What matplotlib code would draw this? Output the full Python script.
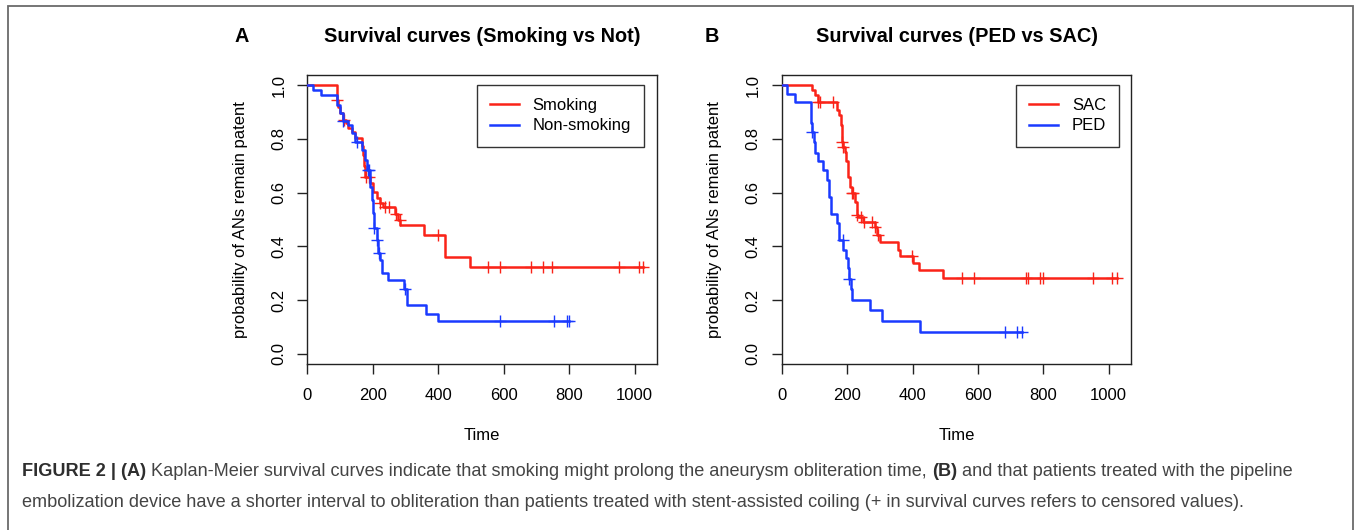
"""Kaplan-Meier curves: smoking vs not, PED vs SAC (Figure 2 remake)."""

import matplotlib
matplotlib.use("Agg")
import matplotlib.pyplot as plt
import numpy as np
from matplotlib.patches import Rectangle

# ---- Panel A: step times and survival just after each step
smoking_times = [0, 90, 95, 100, 108, 118, 125, 136, 146, 166, 170, 173, 176,
                 190, 200, 212, 222, 232, 268, 278, 283, 355, 420, 496]
smoking_surv = [1.0, 0.945, 0.92, 0.895, 0.87, 0.86, 0.84, 0.827, 0.802, 0.775,
                0.74, 0.70, 0.66, 0.636, 0.604, 0.579, 0.56, 0.548, 0.52, 0.498,
                0.48, 0.442, 0.361, 0.322]
smoking_censor = [92, 112, 180, 187, 222, 238, 250, 272, 282, 400,
                  551, 589, 683, 720, 747, 953, 1012, 1025]

nonsmoking_times = [0, 16, 41, 90, 100, 110, 125, 135, 146, 166, 176, 181, 191,
                    198, 202, 205, 212, 217, 222, 229, 247, 296, 303, 306, 364, 398]
nonsmoking_surv = [1.0, 0.983, 0.964, 0.927, 0.896, 0.865, 0.852, 0.821, 0.79,
                   0.759, 0.72, 0.684, 0.622, 0.573, 0.523, 0.468, 0.425, 0.375,
                   0.349, 0.30, 0.275, 0.243, 0.212, 0.181, 0.15, 0.123]
nonsmoking_censor = [110, 151, 186, 188, 205, 213, 220, 298, 589, 755, 792, 798]

# ---- Panel B
sac_times = [0, 92, 102, 110, 168, 176, 180, 183, 188, 193, 198, 203, 208, 214,
             224, 229, 234, 249, 285, 290, 300, 356, 362, 402, 420, 494]
sac_surv = [1.0, 0.982, 0.963, 0.936, 0.908, 0.89, 0.85, 0.79, 0.77, 0.753,
            0.716, 0.66, 0.622, 0.60, 0.567, 0.517, 0.51, 0.492, 0.473, 0.442,
            0.417, 0.386, 0.364, 0.337, 0.312, 0.284]
sac_censor = [112, 117, 156, 183, 188, 214, 217, 229, 244, 251, 275, 285, 295,
              397, 550, 588, 748, 754, 790, 798, 952, 1011, 1024]

ped_times = [0, 15, 41, 90, 94, 99, 102, 112, 125, 137, 145, 150, 170, 176, 188,
             196, 202, 207, 211, 216, 270, 307, 422]
ped_surv = [1.0, 0.968, 0.937, 0.86, 0.827, 0.79, 0.747, 0.716, 0.684, 0.647,
            0.585, 0.52, 0.486, 0.424, 0.386, 0.355, 0.318, 0.28, 0.243, 0.202,
            0.163, 0.123, 0.081]
ped_censor = [94, 186, 207, 683, 719, 736]

x_ticks = [0, 200, 400, 600, 800, 1000]
y_ticks = [0.0, 0.2, 0.4, 0.6, 0.8, 1.0]

caption_line1 = [
    ("FIGURE 2 | (A)", "bold"),
    (" Kaplan-Meier survival curves indicate that smoking might prolong the "
     "aneurysm obliteration time, ", "normal"),
    ("(B)", "bold"),
    (" and that patients treated with the pipeline", "normal"),
]
caption_line2 = ("embolization device have a shorter interval to obliteration "
                 "than patients treated with stent-assisted coiling (+ in "
                 "survival curves refers to censored values).")

RED = "#FA2318"
BLUE = "#1A3AFF"
W, H = 1357, 530

plt.rcParams["font.family"] = ["Liberation Sans", "DejaVu Sans"]


def fx(x):
    return x / W


def fy(y):
    return 1 - y / H


def km_curve(ax, times, surv, censor, color, label):
    times = np.asarray(times, dtype=float)
    surv = np.asarray(surv, dtype=float)
    t = np.append(times, max(censor))
    s = np.append(surv, surv[-1])
    ax.step(t, s, where="post", color=color, lw=1.8, label=label, zorder=3)
    idx = np.searchsorted(times, censor, side="right") - 1
    ax.plot(censor, surv[idx], "+", color=color, ms=8, mew=1.0, zorder=3)


def style_axes(ax):
    ax.set_xlim(0, 1069)
    ax.set_ylim(-0.038, 1.038)
    ax.set_xticks(x_ticks)
    ax.set_yticks(y_ticks)
    ax.set_yticklabels([f"{v:.1f}" for v in y_ticks])
    for sp in ax.spines.values():
        sp.set_color("#222222")
        sp.set_linewidth(1.0)
    ax.tick_params(axis="both", length=7, width=1.0, color="#222222",
                   labelsize=12)
    ax.tick_params(axis="x", pad=10)
    ax.tick_params(axis="y", pad=8, labelrotation=90)
    for lab in ax.get_yticklabels():
        lab.set_va("center")


fig = plt.figure(figsize=(W / 100, H / 100), dpi=100)

ax_a = fig.add_axes([fx(307.3), fy(364), (657.3 - 307.3) / W, 289 / H])
ax_b = fig.add_axes([fx(781.7), fy(364), (1131.3 - 781.7) / W, 289 / H])

km_curve(ax_a, smoking_times, smoking_surv, smoking_censor, RED, "Smoking")
km_curve(ax_a, nonsmoking_times, nonsmoking_surv, nonsmoking_censor, BLUE, "Non-smoking")
km_curve(ax_b, sac_times, sac_surv, sac_censor, RED, "SAC")
km_curve(ax_b, ped_times, ped_surv, ped_censor, BLUE, "PED")

panels = [
    (ax_a, "A", 242, 240, "Survival curves (Smoking vs Not)", 482.3, (0.963, 0.966)),
    (ax_b, "B", 712, 714, "Survival curves (PED vs SAC)", 956.5, (0.966, 0.966)),
]
for ax, letter, lx, ylx, title, cx, anchor in panels:
    style_axes(ax)
    fig.text(fx(lx), fy(42.5), letter, ha="center", va="baseline",
             fontsize=14.3, fontweight="bold")
    fig.text(fx(cx), fy(42.5), title, ha="center", va="baseline",
             fontsize=14.3, fontweight="bold")
    fig.text(fx(cx), fy(435), "Time", ha="center", va="center", fontsize=12)
    fig.text(fx(ylx), fy(219.5), "probability of ANs remain patent",
             rotation=90, ha="center", va="center", fontsize=12)
    leg = ax.legend(loc="upper right", bbox_to_anchor=anchor, borderaxespad=0,
                    fontsize=12, fancybox=False, framealpha=1,
                    handlelength=1.75, handletextpad=0.8, borderpad=0.8,
                    labelspacing=0.32)
    leg.get_frame().set_edgecolor("#333333")
    leg.get_frame().set_linewidth(1.0)

# outer frame of the figure block
fig.patches.append(Rectangle((fx(8), -0.05), fx(1353) - fx(8), fy(6) + 0.05,
                             transform=fig.transFigure, fill=False,
                             edgecolor="#6a6a6a", lw=1.3))

# caption: bold and regular runs placed one after another on the baseline
cap_size = 13.1
renderer = fig.canvas.get_renderer()
cur_x = 22.0
for txt, weight in caption_line1:
    col = "#2e2e2e" if weight == "bold" else "#444444"
    t = fig.text(fx(cur_x), fy(476), txt, fontsize=cap_size, fontweight=weight,
                 color=col, va="baseline", ha="left")
    cur_x += t.get_window_extent(renderer=renderer).width
fig.text(fx(22), fy(507), caption_line2, fontsize=cap_size, color="#444444",
         va="baseline", ha="left")

fig.savefig("out.png", dpi=100)
plt.close(fig)
